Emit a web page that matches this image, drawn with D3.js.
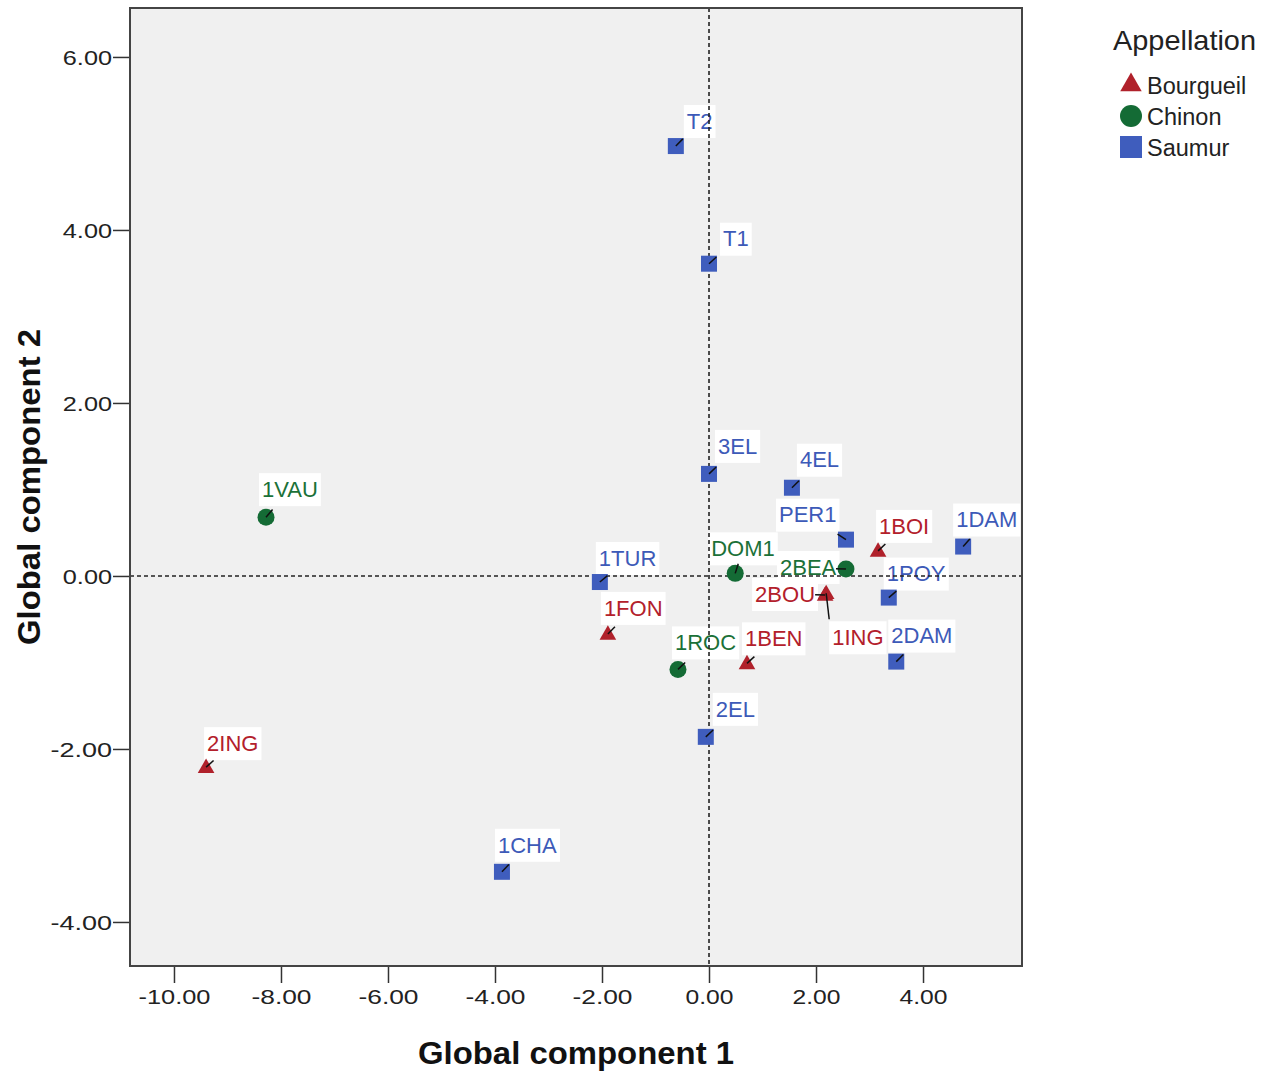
<!DOCTYPE html>
<html><head><meta charset="utf-8">
<script src="https://cdn.jsdelivr.net/npm/d3@7"></script>
<style>body{margin:0;background:#fff;font-family:Arial,"Liberation Sans",sans-serif}</style>
</head><body><svg id="c" width="1261" height="1072"></svg>
<script>
// ---- data ----
const names = ["T2","T1","3EL","4EL","PER1","1DAM","1BOI","2BEA","DOM1","1POY","2BOU","1ING","2DAM","1TUR","1FON","1ROC","1BEN","2EL","1VAU","2ING","1CHA"];
const comp1 = [-0.62,0.0,0.0,1.55,2.56,4.75,3.16,2.56,0.49,3.36,2.17,2.19,3.50,-2.04,-1.89,-0.58,0.71,-0.06,-8.28,-9.40,-3.87];
const comp2 = [4.97,3.61,1.18,1.02,0.42,0.34,0.29,0.08,0.03,-0.25,-0.22,-0.20,-0.99,-0.07,-0.67,-1.08,-1.01,-1.86,0.68,-2.21,-3.42];
const appellation = ["Saumur","Saumur","Saumur","Saumur","Saumur","Saumur","Bourgueil","Chinon","Chinon","Saumur","Bourgueil","Bourgueil","Saumur","Saumur","Bourgueil","Chinon","Bourgueil","Saumur","Chinon","Bourgueil","Saumur"];
const groups = ["Bourgueil","Chinon","Saumur"];
const xTicks = [-10,-8,-6,-4,-2,0,2,4];
const yTicks = [-4,-2,0,2,4,6];

// ---- layout (label offsets in px, relative to marker) ----
const labelOffset = {
  "T2":[8,-25],"T1":[11,-25],"3EL":[6,-28],"4EL":[5,-28],"PER1":[-70,-25],"1DAM":[-10,-27],
  "1BOI":[-2,-25],"2BEA":[-69,-2],"DOM1":[-27,-25],"1POY":[-5,-24],"2BOU":[-73,-1],"1ING":[3,44],
  "2DAM":[-8,-26],"1TUR":[-4,-24],"1FON":[-7,-26],"1ROC":[-6,-27],"1BEN":[-5,-25],"2EL":[7,-28],
  "1VAU":[-7,-28],"2ING":[-2,-24],"1CHA":[-7,-27]
};
const markColor = {Bourgueil:"#b0212b",Chinon:"#146b35",Saumur:"#3f5dbd"};
const textColor = {Bourgueil:"#b3202b",Chinon:"#1b7138",Saumur:"#3d5ab8"};
const fmt = d => d.toFixed(2);

const svg = d3.select("#c");
const L=130,R=1022,T=8,B=966;
const x = d3.scaleLinear().domain([-10.822,5.85]).range([L,R]);
const y = d3.scaleLinear().domain([-4.509,6.566]).range([B,T]);

svg.append("rect").attr("x",L).attr("y",T).attr("width",R-L).attr("height",B-T).attr("fill","#f0f0f0");

// axes
const xa = svg.append("g").attr("transform",`translate(0,${B})`)
  .call(d3.axisBottom(x).tickValues(xTicks).tickFormat(fmt).tickSize(17).tickPadding(7));
xa.select(".domain").remove();
xa.selectAll("line").attr("stroke","#333").attr("stroke-width",1.5);
xa.selectAll("text").attr("font-size",20).attr("fill","#222").attr("font-family","Arial, Liberation Sans")
  .attr("textLength",d=>fmt(d).length*12).attr("lengthAdjust","spacingAndGlyphs");
const ya = svg.append("g").attr("transform",`translate(${L},0)`)
  .call(d3.axisLeft(y).tickValues(yTicks).tickFormat(fmt).tickSize(17).tickPadding(1));
ya.select(".domain").remove();
ya.selectAll("line").attr("stroke","#333").attr("stroke-width",1.5);
ya.selectAll("text").attr("font-size",20).attr("fill","#222").attr("font-family","Arial, Liberation Sans").attr("dy","0.36em")
  .attr("textLength",d=>fmt(d).length*12.3).attr("lengthAdjust","spacingAndGlyphs");

svg.append("text").attr("x",576).attr("y",1064).attr("text-anchor","middle")
  .attr("font-family","Liberation Sans Narrow, Arial Narrow, Arial").attr("font-weight","bold").attr("font-size",31).attr("fill","#111")
  .attr("textLength",316).attr("lengthAdjust","spacingAndGlyphs").text("Global component 1");
svg.append("text").attr("transform",`translate(40,${487}) rotate(-90)`).attr("text-anchor","middle")
  .attr("font-family","Liberation Sans Narrow, Arial Narrow, Arial").attr("font-weight","bold").attr("font-size",31).attr("fill","#111")
  .attr("textLength",316).attr("lengthAdjust","spacingAndGlyphs").text("Global component 2");

const pts = names.map((n,i)=>({name:n,cx:x(comp1[i]),cy:y(comp2[i]),g:appellation[i]}));

// labels
const lab = svg.append("g");
pts.forEach(p=>{
  const o = labelOffset[p.name];
  const g = lab.append("g");
  const t = g.append("text").attr("x",p.cx+o[0]+3).attr("y",p.cy+o[1]).attr("dy","0.35em")
    .attr("font-size",22).attr("fill",textColor[p.g]).attr("font-family","Arial, Liberation Sans").text(p.name);
  const bb = t.node().getBBox();
  g.insert("rect","text").attr("x",bb.x-3).attr("y",p.cy+o[1]-16).attr("width",bb.width+6).attr("height",33).attr("fill","#fff");
  p.box = {x0:bb.x-3,x1:bb.x+bb.width+3,y0:p.cy+o[1]-16,y1:p.cy+o[1]+17};
});

// reference lines
svg.append("line").attr("x1",x(0)).attr("x2",x(0)).attr("y1",T).attr("y2",B).attr("stroke","#222").attr("stroke-width",1.6).attr("stroke-dasharray","4,3");
svg.append("line").attr("x1",L).attr("x2",R).attr("y1",y(0)).attr("y2",y(0)).attr("stroke","#222").attr("stroke-width",1.6).attr("stroke-dasharray","4,3");

// markers
const tri = d3.symbol().type(d3.symbolTriangle).size(120);
const mk = svg.append("g");
pts.forEach(p=>{
  if(p.g==="Saumur") mk.append("rect").attr("x",p.cx-8).attr("y",p.cy-8).attr("width",16).attr("height",16).attr("fill",markColor[p.g]);
  else if(p.g==="Chinon") mk.append("circle").attr("cx",p.cx).attr("cy",p.cy).attr("r",8.5).attr("fill",markColor[p.g]);
  else mk.append("path").attr("d",tri()).attr("transform",`translate(${p.cx},${p.cy+1})`).attr("fill",markColor[p.g]);
});
// leader lines: point toward the label box centre
pts.forEach(p=>{
  const b=p.box;
  const bx=(b.x0+b.x1)/2, by=(b.y0+b.y1)/2;
  const nx=Math.max(b.x0,Math.min(p.cx,b.x1)), ny=Math.max(b.y0,Math.min(p.cy,b.y1));
  const edge=Math.hypot(nx-p.cx,ny-p.cy);
  if(edge>25){
    svg.append("line").attr("x1",p.cx).attr("y1",p.cy).attr("x2",nx).attr("y2",ny-2)
      .attr("stroke","#111").attr("stroke-width",1.5);
    return;
  }
  let dx=bx-p.cx, dy=by-p.cy; const d=Math.hypot(dx,dy);
  svg.append("line").attr("x1",p.cx).attr("y1",p.cy).attr("x2",p.cx+dx/d*10).attr("y2",p.cy+dy/d*10)
    .attr("stroke","#111").attr("stroke-width",1.5);
});

// frame
svg.append("rect").attr("x",L).attr("y",T).attr("width",R-L).attr("height",B-T).attr("fill","none").attr("stroke","#444").attr("stroke-width",2);

// legend
const lg = svg.append("g");
lg.append("text").attr("x",1113).attr("y",50).attr("font-size",28).attr("fill","#222").attr("font-family","Arial, Liberation Sans")
  .attr("textLength",143).attr("lengthAdjust","spacingAndGlyphs").text("Appellation");
groups.forEach((gname,i)=>{
  const cy = 85+i*31;
  if(gname==="Saumur") lg.append("rect").attr("x",1120).attr("y",cy-11).attr("width",22).attr("height",22).attr("fill",markColor[gname]);
  else if(gname==="Chinon") lg.append("circle").attr("cx",1131).attr("cy",cy).attr("r",11).attr("fill",markColor[gname]);
  else lg.append("path").attr("d",d3.symbol().type(d3.symbolTriangle).size(200)()).attr("transform",`translate(1131,${cy})`).attr("fill",markColor[gname]);
  lg.append("text").attr("x",1147).attr("y",cy+1).attr("dy","0.35em").attr("font-size",23.5).attr("fill","#222").attr("font-family","Arial, Liberation Sans").text(gname);
});
</script></body></html>
